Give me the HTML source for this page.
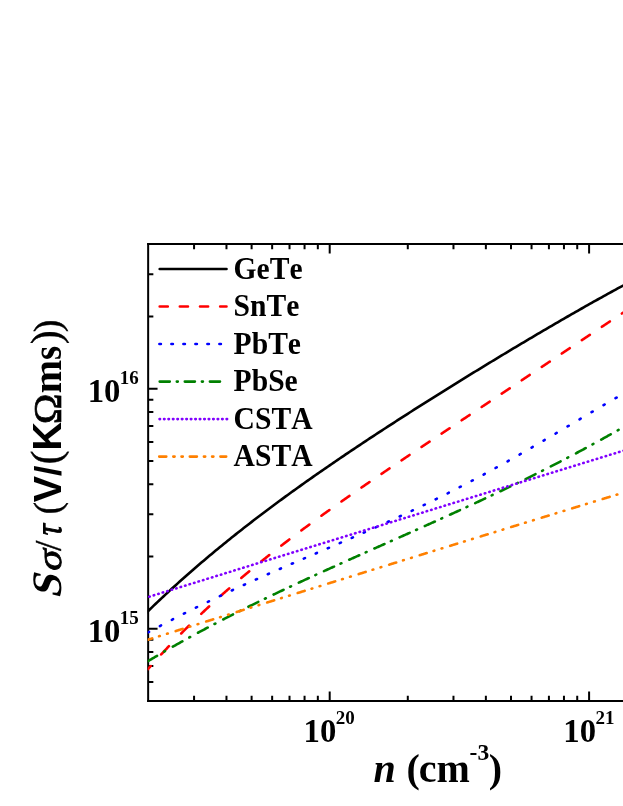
<!DOCTYPE html>
<html><head><meta charset="utf-8"><title>chart</title>
<style>html,body{margin:0;padding:0;background:#fff}body{width:623px;height:806px;overflow:hidden;font-family:"Liberation Serif",serif}svg{display:block;will-change:transform} text{font-kerning:none}</style>
</head><body>
<svg width="623" height="806" viewBox="0 0 623 806">
<rect width="623" height="806" fill="#fff"/>
<g stroke="#000" stroke-width="2.00" fill="none" stroke-linecap="butt">
<path d="M148.15 243.10 V701.90"/>
<path d="M147.15 244.10 H625"/>
<path d="M147.15 700.90 H625"/>
<path d="M194.07 700.90 v-5.20 M194.07 244.10 v5.20 M226.47 700.90 v-5.20 M226.47 244.10 v5.20 M251.61 700.90 v-5.20 M251.61 244.10 v5.20 M272.15 700.90 v-5.20 M272.15 244.10 v5.20 M289.52 700.90 v-5.20 M289.52 244.10 v5.20 M304.56 700.90 v-5.20 M304.56 244.10 v5.20 M317.83 700.90 v-5.20 M317.83 244.10 v5.20 M329.70 700.90 v-9.40 M329.70 244.10 v9.40 M407.79 700.90 v-5.20 M407.79 244.10 v5.20 M453.47 700.90 v-5.20 M453.47 244.10 v5.20 M485.87 700.90 v-5.20 M485.87 244.10 v5.20 M511.01 700.90 v-5.20 M511.01 244.10 v5.20 M531.55 700.90 v-5.20 M531.55 244.10 v5.20 M548.92 700.90 v-5.20 M548.92 244.10 v5.20 M563.96 700.90 v-5.20 M563.96 244.10 v5.20 M577.23 700.90 v-5.20 M577.23 244.10 v5.20 M589.10 700.90 v-9.40 M589.10 244.10 v9.40 M148.15 681.94 h5.20 M148.15 665.88 h5.20 M148.15 651.96 h5.20 M148.15 639.68 h5.20 M148.15 628.70 h9.40 M148.15 556.45 h5.20 M148.15 514.19 h5.20 M148.15 484.21 h5.20 M148.15 460.95 h5.20 M148.15 441.94 h5.20 M148.15 425.88 h5.20 M148.15 411.96 h5.20 M148.15 399.68 h5.20 M148.15 388.70 h9.40 M148.15 316.45 h5.20 M148.15 274.19 h5.20"/>
</g>
<defs><clipPath id="pc"><rect x="147.70" y="244.10" width="480.30" height="456.80"/></clipPath></defs>
<g clip-path="url(#pc)" fill="none" stroke-width="2.60" stroke-linecap="round" stroke-linejoin="round">
<path d="M145.70 613.40 L147.70 611.45 L149.70 609.51 L151.70 607.58 L153.70 605.66 L155.70 603.75 L157.70 601.85 L159.70 599.96 L161.70 598.08 L163.70 596.21 L165.70 594.35 L167.70 592.50 L169.70 590.66 L171.70 588.82 L173.70 587.00 L175.70 585.18 L177.70 583.38 L179.70 581.58 L181.70 579.79 L183.70 578.01 L185.70 576.24 L187.70 574.47 L189.70 572.71 L191.70 570.97 L193.70 569.23 L195.70 567.50 L197.70 565.77 L199.70 564.06 L201.70 562.35 L203.70 560.65 L205.70 558.95 L207.70 557.27 L209.70 555.59 L211.70 553.92 L213.70 552.25 L215.70 550.59 L217.70 548.94 L219.70 547.30 L221.70 545.66 L223.70 544.03 L225.70 542.41 L227.70 540.79 L229.70 539.18 L231.70 537.58 L233.70 535.98 L235.70 534.39 L237.70 532.81 L239.70 531.23 L241.70 529.65 L243.70 528.09 L245.70 526.53 L247.70 524.97 L249.70 523.42 L251.70 521.88 L253.70 520.34 L255.70 518.80 L257.70 517.28 L259.70 515.75 L261.70 514.24 L263.70 512.73 L265.70 511.22 L267.70 509.72 L269.70 508.22 L271.70 506.73 L273.70 505.24 L275.70 503.76 L277.70 502.28 L279.70 500.81 L281.70 499.34 L283.70 497.88 L285.70 496.42 L287.70 494.97 L289.70 493.52 L291.70 492.07 L293.70 490.63 L295.70 489.19 L297.70 487.76 L299.70 486.33 L301.70 484.90 L303.70 483.48 L305.70 482.06 L307.70 480.65 L309.70 479.24 L311.70 477.83 L313.70 476.43 L315.70 475.03 L317.70 473.64 L319.70 472.24 L321.70 470.86 L323.70 469.47 L325.70 468.09 L327.70 466.71 L329.70 465.33 L331.70 463.96 L333.70 462.59 L335.70 461.23 L337.70 459.87 L339.70 458.51 L341.70 457.15 L343.70 455.80 L345.70 454.44 L347.70 453.10 L349.70 451.75 L351.70 450.41 L353.70 449.07 L355.70 447.73 L357.70 446.40 L359.70 445.07 L361.70 443.74 L363.70 442.41 L365.70 441.08 L367.70 439.76 L369.70 438.44 L371.70 437.13 L373.70 435.81 L375.70 434.50 L377.70 433.19 L379.70 431.88 L381.70 430.58 L383.70 429.27 L385.70 427.97 L387.70 426.67 L389.70 425.37 L391.70 424.08 L393.70 422.79 L395.70 421.50 L397.70 420.21 L399.70 418.92 L401.70 417.63 L403.70 416.35 L405.70 415.07 L407.70 413.79 L409.70 412.51 L411.70 411.24 L413.70 409.96 L415.70 408.69 L417.70 407.42 L419.70 406.15 L421.70 404.88 L423.70 403.62 L425.70 402.35 L427.70 401.09 L429.70 399.83 L431.70 398.57 L433.70 397.31 L435.70 396.06 L437.70 394.80 L439.70 393.55 L441.70 392.30 L443.70 391.05 L445.70 389.80 L447.70 388.55 L449.70 387.31 L451.70 386.07 L453.70 384.82 L455.70 383.58 L457.70 382.34 L459.70 381.11 L461.70 379.87 L463.70 378.63 L465.70 377.40 L467.70 376.17 L469.70 374.94 L471.70 373.71 L473.70 372.48 L475.70 371.26 L477.70 370.03 L479.70 368.81 L481.70 367.59 L483.70 366.37 L485.70 365.15 L487.70 363.93 L489.70 362.71 L491.70 361.50 L493.70 360.28 L495.70 359.07 L497.70 357.86 L499.70 356.65 L501.70 355.45 L503.70 354.24 L505.70 353.04 L507.70 351.83 L509.70 350.63 L511.70 349.43 L513.70 348.23 L515.70 347.04 L517.70 345.84 L519.70 344.65 L521.70 343.45 L523.70 342.26 L525.70 341.07 L527.70 339.89 L529.70 338.70 L531.70 337.52 L533.70 336.33 L535.70 335.15 L537.70 333.97 L539.70 332.80 L541.70 331.62 L543.70 330.45 L545.70 329.27 L547.70 328.10 L549.70 326.93 L551.70 325.77 L553.70 324.60 L555.70 323.44 L557.70 322.28 L559.70 321.12 L561.70 319.96 L563.70 318.81 L565.70 317.65 L567.70 316.50 L569.70 315.35 L571.70 314.21 L573.70 313.06 L575.70 311.92 L577.70 310.78 L579.70 309.64 L581.70 308.50 L583.70 307.37 L585.70 306.24 L587.70 305.11 L589.70 303.98 L591.70 302.86 L593.70 301.74 L595.70 300.62 L597.70 299.50 L599.70 298.39 L601.70 297.27 L603.70 296.16 L605.70 295.06 L607.70 293.96 L609.70 292.85 L611.70 291.76 L613.70 290.66 L615.70 289.57 L617.70 288.48 L619.70 287.39 L621.70 286.31 L623.70 285.23 L625.70 284.15 L627.70 283.08 L629.70 282.01" stroke="#000000"/>
<path d="M148.00 669.06 L148.50 668.49 L149.00 667.93 L149.50 667.36 L150.00 666.80 L150.50 666.24 L150.70 666.01 M161.20 654.43 L161.70 653.89 L162.20 653.35 L162.70 652.81 L163.20 652.27 L163.70 651.74 L164.20 651.20 L164.70 650.66 L165.20 650.13 L165.70 649.60 L166.20 649.06 L166.70 648.53 L167.20 648.00 L167.70 647.47 L168.20 646.94 L168.70 646.42 L168.95 646.15 M181.23 633.47 L181.73 632.96 L182.23 632.46 L182.73 631.95 L183.23 631.45 L183.73 630.95 L184.23 630.45 L184.73 629.95 L185.23 629.45 L185.73 628.95 L186.23 628.45 L186.73 627.95 L187.23 627.46 L187.73 626.96 L188.23 626.47 L188.73 625.97 L189.04 625.66 M201.26 613.84 L201.76 613.37 L202.26 612.89 L202.76 612.42 L203.26 611.95 L203.76 611.48 L204.26 611.00 L204.76 610.53 L205.26 610.07 L205.76 609.60 L206.26 609.13 L206.76 608.66 L207.26 608.20 L207.76 607.73 L208.26 607.26 L208.76 606.80 L209.12 606.46 M221.29 595.38 L221.79 594.94 L222.29 594.49 L222.79 594.04 L223.29 593.60 L223.79 593.15 L224.29 592.71 L224.79 592.27 L225.29 591.82 L225.79 591.38 L226.29 590.94 L226.79 590.50 L227.29 590.06 L227.79 589.62 L228.29 589.18 L228.79 588.74 L229.19 588.39 M241.32 577.95 L241.82 577.52 L242.32 577.10 L242.82 576.68 L243.32 576.26 L243.82 575.83 L244.32 575.41 L244.82 574.99 L245.32 574.57 L245.82 574.16 L246.32 573.74 L246.82 573.32 L247.32 572.90 L247.82 572.48 L248.32 572.07 L248.82 571.65 L249.25 571.30 M261.35 561.39 L261.85 560.99 L262.35 560.58 L262.85 560.18 L263.35 559.78 L263.85 559.38 L264.35 558.98 L264.85 558.58 L265.35 558.18 L265.85 557.78 L266.35 557.38 L266.85 556.98 L267.35 556.58 L267.85 556.18 L268.35 555.78 L268.85 555.39 L269.30 555.03 M281.38 545.58 L281.88 545.19 L282.38 544.80 L282.88 544.42 L283.38 544.03 L283.88 543.65 L284.38 543.27 L284.88 542.88 L285.38 542.50 L285.88 542.11 L286.38 541.73 L286.88 541.35 L287.38 540.97 L287.88 540.59 L288.38 540.20 L288.88 539.82 L289.34 539.47 M301.41 530.39 L301.91 530.02 L302.41 529.65 L302.91 529.28 L303.41 528.90 L303.91 528.53 L304.41 528.16 L304.91 527.79 L305.41 527.42 L305.91 527.05 L306.41 526.68 L306.91 526.32 L307.41 525.95 L307.91 525.58 L308.41 525.21 L308.91 524.84 L309.38 524.50 M321.44 515.72 L321.94 515.36 L322.44 515.00 L322.94 514.64 L323.44 514.28 L323.94 513.92 L324.44 513.56 L324.94 513.20 L325.44 512.84 L325.94 512.48 L326.44 512.13 L326.94 511.77 L327.44 511.41 L327.94 511.05 L328.44 510.69 L328.94 510.34 L329.42 510.00 M341.47 501.46 L341.97 501.11 L342.47 500.76 L342.97 500.41 L343.47 500.06 L343.97 499.71 L344.47 499.36 L344.97 499.01 L345.47 498.66 L345.97 498.31 L346.47 497.96 L346.97 497.61 L347.47 497.26 L347.97 496.91 L348.47 496.56 L348.97 496.21 L349.45 495.88 M361.50 487.53 L362.00 487.18 L362.50 486.84 L363.00 486.50 L363.50 486.15 L364.00 485.81 L364.50 485.46 L365.00 485.12 L365.50 484.78 L366.00 484.43 L366.50 484.09 L367.00 483.75 L367.50 483.41 L368.00 483.06 L368.50 482.72 L369.00 482.38 L369.48 482.05 M381.53 473.84 L382.03 473.50 L382.53 473.16 L383.03 472.82 L383.53 472.48 L384.03 472.14 L384.53 471.80 L385.03 471.47 L385.53 471.13 L386.03 470.79 L386.53 470.45 L387.03 470.11 L387.53 469.77 L388.03 469.44 L388.53 469.10 L389.03 468.76 L389.51 468.44 M401.56 460.32 L402.06 459.99 L402.56 459.65 L403.06 459.32 L403.56 458.98 L404.06 458.65 L404.56 458.31 L405.06 457.97 L405.56 457.64 L406.06 457.30 L406.56 456.97 L407.06 456.63 L407.56 456.30 L408.06 455.96 L408.56 455.63 L409.06 455.29 L409.54 454.97 M421.59 446.92 L422.09 446.59 L422.59 446.26 L423.09 445.92 L423.59 445.59 L424.09 445.25 L424.59 444.92 L425.09 444.59 L425.59 444.26 L426.09 443.92 L426.59 443.59 L427.09 443.26 L427.59 442.92 L428.09 442.59 L428.59 442.26 L429.09 441.92 L429.58 441.60 M441.62 433.59 L442.12 433.25 L442.62 432.92 L443.12 432.59 L443.62 432.26 L444.12 431.93 L444.62 431.59 L445.12 431.26 L445.62 430.93 L446.12 430.60 L446.62 430.26 L447.12 429.93 L447.62 429.60 L448.12 429.27 L448.62 428.93 L449.12 428.60 L449.62 428.27 M461.65 420.28 L462.15 419.95 L462.65 419.61 L463.15 419.28 L463.65 418.95 L464.15 418.62 L464.65 418.29 L465.15 417.95 L465.65 417.62 L466.15 417.29 L466.65 416.96 L467.15 416.63 L467.65 416.29 L468.15 415.96 L468.65 415.63 L469.15 415.30 L469.65 414.97 M481.68 406.97 L482.18 406.64 L482.68 406.30 L483.18 405.97 L483.68 405.64 L484.18 405.31 L484.68 404.97 L485.18 404.64 L485.68 404.31 L486.18 403.98 L486.68 403.64 L487.18 403.31 L487.68 402.98 L488.18 402.65 L488.68 402.31 L489.18 401.98 L489.67 401.65 M501.71 393.64 L502.21 393.31 L502.71 392.97 L503.21 392.64 L503.71 392.31 L504.21 391.97 L504.71 391.64 L505.21 391.31 L505.71 390.97 L506.21 390.64 L506.71 390.31 L507.21 389.97 L507.71 389.64 L508.21 389.31 L508.71 388.97 L509.21 388.64 L509.70 388.32 M521.74 380.28 L522.24 379.95 L522.74 379.62 L523.24 379.28 L523.74 378.95 L524.24 378.61 L524.74 378.28 L525.24 377.95 L525.74 377.61 L526.24 377.28 L526.74 376.94 L527.24 376.61 L527.74 376.28 L528.24 375.94 L528.74 375.61 L529.24 375.27 L529.72 374.95 M541.77 366.90 L542.27 366.57 L542.77 366.23 L543.27 365.90 L543.77 365.56 L544.27 365.23 L544.77 364.90 L545.27 364.56 L545.77 364.23 L546.27 363.89 L546.77 363.56 L547.27 363.22 L547.77 362.89 L548.27 362.55 L548.77 362.22 L549.27 361.89 L549.75 361.56 M561.80 353.51 L562.30 353.17 L562.80 352.84 L563.30 352.50 L563.80 352.17 L564.30 351.84 L564.80 351.50 L565.30 351.17 L565.80 350.83 L566.30 350.50 L566.80 350.16 L567.30 349.83 L567.80 349.50 L568.30 349.16 L568.80 348.83 L569.30 348.49 L569.78 348.17 M581.83 340.12 L582.33 339.79 L582.83 339.46 L583.33 339.12 L583.83 338.79 L584.33 338.46 L584.83 338.12 L585.33 337.79 L585.83 337.46 L586.33 337.12 L586.83 336.79 L587.33 336.45 L587.83 336.12 L588.33 335.79 L588.83 335.46 L589.33 335.12 L589.82 334.80 M601.86 326.78 L602.36 326.45 L602.86 326.12 L603.36 325.79 L603.86 325.46 L604.36 325.13 L604.86 324.79 L605.36 324.46 L605.86 324.13 L606.36 323.80 L606.86 323.47 L607.36 323.14 L607.86 322.80 L608.36 322.47 L608.86 322.14 L609.36 321.81 L609.86 321.48 L609.86 321.48 M621.89 313.53 L622.39 313.20 L622.89 312.88 L623.39 312.55 L623.89 312.22 L624.39 311.89 L624.89 311.56 L625.39 311.23 L625.89 310.90 L626.39 310.57 L626.89 310.25 L627.39 309.92 L627.89 309.59 L628.39 309.26" stroke="#ff0000"/>
<path d="M147.90 632.46 L148.40 632.19 L148.90 631.92 L149.04 631.84 M159.89 626.06 L160.39 625.79 L160.89 625.53 L161.04 625.45 M171.88 619.79 L172.38 619.53 L172.88 619.28 L173.04 619.20 M183.87 613.67 L184.37 613.41 L184.87 613.16 L185.03 613.08 M195.86 607.68 L196.36 607.43 L196.86 607.18 L197.03 607.10 M207.85 601.82 L208.35 601.58 L208.85 601.34 L209.02 601.25 M219.84 596.09 L220.34 595.85 L220.84 595.62 L221.02 595.53 M231.83 590.48 L232.33 590.25 L232.83 590.01 L233.01 589.93 M243.82 584.97 L244.32 584.74 L244.82 584.52 L245.00 584.43 M255.81 579.56 L256.31 579.34 L256.81 579.12 L257.00 579.03 M267.80 574.24 L268.30 574.02 L268.80 573.79 L268.99 573.71 M279.79 568.98 L280.29 568.76 L280.79 568.54 L280.98 568.46 M291.78 563.77 L292.28 563.55 L292.78 563.34 L292.97 563.25 M303.77 558.59 L304.27 558.38 L304.77 558.16 L304.96 558.08 M315.76 553.44 L316.26 553.23 L316.76 553.01 L316.95 552.93 M327.75 548.29 L328.25 548.07 L328.75 547.86 L328.94 547.77 M339.74 543.12 L340.24 542.90 L340.74 542.68 L340.93 542.60 M351.73 537.91 L352.23 537.70 L352.73 537.48 L352.92 537.40 M363.72 532.66 L364.22 532.44 L364.72 532.22 L364.91 532.14 M375.71 527.35 L376.21 527.12 L376.71 526.90 L376.90 526.81 M387.70 521.95 L388.20 521.72 L388.70 521.49 L388.88 521.41 M399.69 516.46 L400.19 516.22 L400.69 515.99 L400.87 515.91 M411.68 510.86 L412.18 510.62 L412.68 510.38 L412.86 510.30 M423.67 505.14 L424.17 504.90 L424.67 504.66 L424.84 504.57 M435.66 499.29 L436.16 499.05 L436.66 498.80 L436.83 498.72 M447.65 493.31 L448.15 493.06 L448.65 492.81 L448.81 492.73 M459.64 487.20 L460.14 486.94 L460.64 486.68 L460.79 486.60 M471.63 480.93 L472.13 480.67 L472.63 480.41 L472.78 480.33 M483.62 474.53 L484.12 474.26 L484.62 473.99 L484.76 473.91 M495.61 467.99 L496.11 467.71 L496.61 467.44 L496.75 467.36 M507.60 461.32 L508.10 461.03 L508.60 460.75 L508.73 460.68 M519.59 454.52 L520.09 454.23 L520.59 453.95 L520.72 453.87 M531.58 447.61 L532.08 447.32 L532.58 447.03 L532.70 446.96 M543.57 440.62 L544.07 440.32 L544.57 440.03 L544.69 439.96 M555.56 433.55 L556.06 433.25 L556.56 432.95 L556.68 432.88 M567.55 426.43 L568.05 426.14 L568.55 425.84 L568.67 425.77 M579.54 419.30 L580.04 419.01 L580.54 418.71 L580.66 418.64 M591.53 412.20 L592.03 411.90 L592.53 411.60 L592.65 411.53 M603.52 405.15 L604.02 404.85 L604.52 404.56 L604.64 404.49 M615.51 398.20 L616.01 397.92 L616.51 397.63 L616.64 397.56 M627.50 391.41 L628.00 391.14 L628.50 390.86" stroke="#0000ff"/>
<path d="M148.10 661.11 L148.60 660.81 L149.10 660.51 L149.60 660.21 L150.10 659.91 L150.60 659.62 L151.10 659.32 L151.60 659.02 L152.10 658.72 L152.60 658.43 L153.10 658.13 L153.60 657.83 L154.10 657.54 L154.60 657.24 L155.10 656.95 L155.60 656.65 L156.10 656.36 L156.60 656.07 L157.06 655.80 M164.10 651.69 L164.60 651.40 L164.97 651.19 M172.80 646.71 L173.30 646.42 L173.80 646.14 L174.30 645.86 L174.80 645.57 L175.30 645.29 L175.80 645.01 L176.30 644.73 L176.80 644.44 L177.30 644.16 L177.80 643.88 L178.30 643.60 L178.80 643.32 L179.30 643.04 L179.80 642.76 L180.30 642.48 L180.80 642.20 L181.30 641.92 L181.80 641.64 L182.30 641.37 L182.39 641.32 M189.30 637.50 L189.80 637.22 L190.18 637.02 M198.00 632.76 L198.50 632.49 L199.00 632.22 L199.50 631.95 L200.00 631.69 L200.50 631.42 L201.00 631.15 L201.50 630.88 L202.00 630.61 L202.50 630.35 L203.00 630.08 L203.50 629.81 L204.00 629.54 L204.50 629.28 L205.00 629.01 L205.50 628.75 L206.00 628.48 L206.50 628.21 L207.00 627.95 L207.50 627.68 L207.70 627.58 M214.50 624.00 L215.00 623.74 L215.39 623.54 M223.20 619.48 L223.70 619.23 L224.20 618.97 L224.70 618.71 L225.20 618.45 L225.70 618.20 L226.20 617.94 L226.70 617.69 L227.20 617.43 L227.70 617.17 L228.20 616.92 L228.70 616.66 L229.20 616.41 L229.70 616.15 L230.20 615.90 L230.70 615.64 L231.20 615.39 L231.70 615.14 L232.20 614.88 L232.70 614.63 L233.00 614.48 M239.70 611.10 L240.20 610.85 L240.59 610.65 M248.40 606.77 L248.90 606.52 L249.40 606.28 L249.90 606.03 L250.40 605.78 L250.90 605.54 L251.40 605.29 L251.90 605.04 L252.40 604.80 L252.90 604.55 L253.40 604.31 L253.90 604.06 L254.40 603.82 L254.90 603.57 L255.40 603.33 L255.90 603.08 L256.40 602.84 L256.90 602.59 L257.40 602.35 L257.90 602.11 L258.27 601.92 M264.90 598.71 L265.40 598.47 L265.80 598.28 M273.60 594.53 L274.10 594.29 L274.60 594.06 L275.10 593.82 L275.60 593.58 L276.10 593.34 L276.60 593.10 L277.10 592.86 L277.60 592.63 L278.10 592.39 L278.60 592.15 L279.10 591.92 L279.60 591.68 L280.10 591.44 L280.60 591.20 L281.10 590.97 L281.60 590.73 L282.10 590.50 L282.60 590.26 L283.10 590.02 L283.54 589.82 M290.10 586.73 L290.60 586.50 L291.01 586.31 M298.80 582.68 L299.30 582.44 L299.80 582.21 L300.30 581.98 L300.80 581.75 L301.30 581.52 L301.80 581.29 L302.30 581.05 L302.80 580.82 L303.30 580.59 L303.80 580.36 L304.30 580.13 L304.80 579.90 L305.30 579.67 L305.80 579.44 L306.30 579.21 L306.80 578.98 L307.30 578.75 L307.80 578.52 L308.30 578.29 L308.79 578.06 M315.30 575.08 L315.80 574.85 L316.21 574.66 M324.00 571.11 L324.50 570.89 L325.00 570.66 L325.50 570.43 L326.00 570.21 L326.50 569.98 L327.00 569.75 L327.50 569.52 L328.00 569.30 L328.50 569.07 L329.00 568.85 L329.50 568.62 L330.00 568.39 L330.50 568.17 L331.00 567.94 L331.50 567.71 L332.00 567.49 L332.50 567.26 L333.00 567.04 L333.50 566.81 L334.00 566.59 L334.02 566.58 M340.50 563.66 L341.00 563.43 L341.41 563.25 M349.20 559.75 L349.70 559.53 L350.20 559.31 L350.70 559.08 L351.20 558.86 L351.70 558.64 L352.20 558.41 L352.70 558.19 L353.20 557.96 L353.70 557.74 L354.20 557.52 L354.70 557.29 L355.20 557.07 L355.70 556.85 L356.20 556.62 L356.70 556.40 L357.20 556.18 L357.70 555.95 L358.20 555.73 L358.70 555.51 L359.20 555.28 L359.24 555.27 M365.70 552.39 L366.20 552.16 L366.61 551.98 M374.40 548.52 L374.90 548.29 L375.40 548.07 L375.90 547.85 L376.40 547.63 L376.90 547.40 L377.40 547.18 L377.90 546.96 L378.40 546.74 L378.90 546.51 L379.40 546.29 L379.90 546.07 L380.40 545.85 L380.90 545.63 L381.40 545.40 L381.90 545.18 L382.40 544.96 L382.90 544.74 L383.40 544.51 L383.90 544.29 L384.40 544.07 L384.45 544.05 M390.90 541.18 L391.40 540.96 L391.81 540.77 M399.60 537.31 L400.10 537.09 L400.60 536.87 L401.10 536.64 L401.60 536.42 L402.10 536.20 L402.60 535.98 L403.10 535.75 L403.60 535.53 L404.10 535.31 L404.60 535.09 L405.10 534.86 L405.60 534.64 L406.10 534.42 L406.60 534.20 L407.10 533.97 L407.60 533.75 L408.10 533.53 L408.60 533.30 L409.10 533.08 L409.60 532.86 L409.65 532.84 M416.10 529.96 L416.60 529.73 L417.01 529.55 M424.80 526.06 L425.30 525.84 L425.80 525.61 L426.30 525.39 L426.80 525.17 L427.30 524.94 L427.80 524.72 L428.30 524.49 L428.80 524.27 L429.30 524.04 L429.80 523.82 L430.30 523.59 L430.80 523.37 L431.30 523.14 L431.80 522.92 L432.30 522.69 L432.80 522.47 L433.30 522.24 L433.80 522.02 L434.30 521.79 L434.80 521.57 L434.83 521.55 M441.30 518.63 L441.80 518.41 L442.21 518.22 M450.00 514.69 L450.50 514.46 L451.00 514.23 L451.50 514.01 L452.00 513.78 L452.50 513.55 L453.00 513.32 L453.50 513.09 L454.00 512.87 L454.50 512.64 L455.00 512.41 L455.50 512.18 L456.00 511.95 L456.50 511.72 L457.00 511.50 L457.50 511.27 L458.00 511.04 L458.50 510.81 L459.00 510.58 L459.50 510.35 L460.00 510.12 L460.01 510.12 M466.50 507.14 L467.00 506.90 L467.41 506.72 M475.20 503.11 L475.70 502.88 L476.20 502.65 L476.70 502.41 L477.20 502.18 L477.70 501.95 L478.20 501.72 L478.70 501.48 L479.20 501.25 L479.70 501.02 L480.20 500.78 L480.70 500.55 L481.20 500.32 L481.70 500.08 L482.20 499.85 L482.70 499.61 L483.20 499.38 L483.70 499.15 L484.20 498.91 L484.70 498.68 L485.17 498.46 M491.70 495.38 L492.20 495.15 L492.60 494.96 M500.40 491.26 L500.90 491.02 L501.40 490.78 L501.90 490.54 L502.40 490.30 L502.90 490.06 L503.40 489.82 L503.90 489.58 L504.40 489.34 L504.90 489.10 L505.40 488.86 L505.90 488.62 L506.40 488.38 L506.90 488.14 L507.40 487.90 L507.90 487.66 L508.40 487.42 L508.90 487.18 L509.40 486.94 L509.90 486.70 L510.32 486.50 M516.90 483.31 L517.40 483.06 L517.80 482.87 M525.60 479.05 L526.10 478.80 L526.60 478.55 L527.10 478.31 L527.60 478.06 L528.10 477.81 L528.60 477.57 L529.10 477.32 L529.60 477.07 L530.10 476.82 L530.60 476.58 L531.10 476.33 L531.60 476.08 L532.10 475.83 L532.60 475.58 L533.10 475.34 L533.60 475.09 L534.10 474.84 L534.60 474.59 L535.10 474.34 L535.46 474.16 M542.10 470.83 L542.60 470.58 L542.99 470.38 M550.80 466.42 L551.30 466.16 L551.80 465.91 L552.30 465.65 L552.80 465.39 L553.30 465.14 L553.80 464.88 L554.30 464.62 L554.80 464.37 L555.30 464.11 L555.80 463.85 L556.30 463.60 L556.80 463.34 L557.30 463.08 L557.80 462.82 L558.30 462.57 L558.80 462.31 L559.30 462.05 L559.80 461.79 L560.30 461.53 L560.58 461.38 M567.30 457.88 L567.80 457.62 L568.19 457.42 M576.00 453.29 L576.50 453.03 L577.00 452.76 L577.50 452.49 L578.00 452.23 L578.50 451.96 L579.00 451.69 L579.50 451.43 L580.00 451.16 L580.50 450.89 L581.00 450.62 L581.50 450.36 L582.00 450.09 L582.50 449.82 L583.00 449.55 L583.50 449.28 L584.00 449.01 L584.50 448.74 L585.00 448.47 L585.50 448.20 L585.70 448.10 M592.50 444.40 L593.00 444.13 L593.38 443.92 M601.20 439.61 L601.70 439.33 L602.20 439.05 L602.70 438.78 L603.20 438.50 L603.70 438.22 L604.20 437.94 L604.70 437.66 L605.20 437.38 L605.70 437.10 L606.20 436.82 L606.70 436.54 L607.20 436.26 L607.70 435.98 L608.20 435.70 L608.70 435.42 L609.20 435.14 L609.70 434.86 L610.20 434.57 L610.70 434.29 L610.80 434.24 M617.70 430.31 L618.20 430.03 L618.57 429.82 M626.40 425.30 L626.90 425.01 L627.40 424.72 L627.90 424.43 L628.40 424.13" stroke="#008000"/>
<path d="M149.25 596.68 L149.73 596.53 M153.72 595.30 L154.20 595.15 M158.20 593.92 L158.68 593.77 M162.67 592.54 L163.15 592.40 M167.15 591.17 L167.62 591.02 M171.62 589.79 L172.10 589.64 M176.09 588.41 L176.57 588.26 M180.57 587.03 L181.05 586.89 M185.04 585.65 L185.52 585.51 M189.52 584.28 L189.99 584.13 M193.99 582.90 L194.47 582.75 M198.46 581.52 L198.94 581.37 M202.94 580.14 L203.42 580.00 M207.41 578.77 L207.89 578.62 M211.89 577.39 L212.36 577.24 M216.36 576.01 L216.84 575.86 M220.83 574.63 L221.31 574.49 M225.31 573.26 L225.79 573.11 M229.78 571.88 L230.26 571.73 M234.26 570.50 L234.73 570.35 M238.73 569.12 L239.21 568.98 M243.20 567.75 L243.68 567.60 M247.68 566.37 L248.16 566.22 M252.15 564.99 L252.63 564.84 M256.63 563.61 L257.10 563.47 M261.10 562.23 L261.58 562.09 M265.57 560.86 L266.05 560.71 M270.05 559.48 L270.53 559.33 M274.52 558.10 L275.00 557.95 M279.00 556.72 L279.47 556.58 M283.47 555.35 L283.95 555.20 M287.94 553.97 L288.42 553.82 M292.42 552.59 L292.90 552.44 M296.89 551.21 L297.37 551.07 M301.37 549.84 L301.84 549.69 M305.84 548.46 L306.32 548.31 M310.31 547.08 L310.79 546.93 M314.79 545.70 L315.27 545.56 M319.26 544.33 L319.74 544.18 M323.74 542.95 L324.21 542.80 M328.21 541.57 L328.69 541.42 M332.68 540.19 L333.16 540.05 M337.16 538.81 L337.64 538.67 M341.63 537.44 L342.11 537.29 M346.11 536.06 L346.58 535.91 M350.58 534.68 L351.06 534.53 M355.05 533.30 L355.53 533.16 M359.53 531.93 L360.01 531.78 M364.00 530.55 L364.48 530.40 M368.48 529.17 L368.95 529.02 M372.95 527.79 L373.43 527.65 M377.42 526.42 L377.90 526.27 M381.90 525.04 L382.38 524.89 M386.37 523.66 L386.85 523.51 M390.85 522.28 L391.32 522.14 M395.32 520.91 L395.80 520.76 M399.79 519.53 L400.27 519.38 M404.27 518.15 L404.75 518.00 M408.74 516.77 L409.22 516.63 M413.22 515.39 L413.69 515.25 M417.69 514.02 L418.17 513.87 M422.16 512.64 L422.64 512.49 M426.64 511.26 L427.12 511.11 M431.11 509.88 L431.59 509.74 M435.59 508.51 L436.06 508.36 M440.06 507.13 L440.54 506.98 M444.53 505.75 L445.01 505.60 M449.01 504.37 L449.49 504.23 M453.48 503.00 L453.96 502.85 M457.96 501.62 L458.43 501.47 M462.43 500.24 L462.91 500.09 M466.90 498.86 L467.38 498.72 M471.38 497.49 L471.86 497.34 M475.85 496.11 L476.33 495.96 M480.33 494.73 L480.80 494.58 M484.80 493.35 L485.28 493.21 M489.27 491.97 L489.75 491.83 M493.75 490.60 L494.23 490.45 M498.22 489.22 L498.70 489.07 M502.70 487.84 L503.17 487.69 M507.17 486.46 L507.65 486.32 M511.64 485.09 L512.12 484.94 M516.12 483.71 L516.60 483.56 M520.59 482.33 L521.07 482.18 M525.07 480.95 L525.54 480.81 M529.54 479.58 L530.02 479.43 M534.01 478.20 L534.49 478.05 M538.49 476.82 L538.97 476.67 M542.96 475.44 L543.44 475.30 M547.44 474.07 L547.91 473.92 M551.91 472.69 L552.39 472.54 M556.38 471.31 L556.86 471.16 M560.86 469.93 L561.34 469.79 M565.33 468.55 L565.81 468.41 M569.81 467.18 L570.28 467.03 M574.28 465.80 L574.76 465.65 M578.75 464.42 L579.23 464.27 M583.23 463.04 L583.71 462.90 M587.70 461.67 L588.18 461.52 M592.18 460.29 L592.65 460.14 M596.65 458.91 L597.13 458.76 M601.12 457.53 L601.60 457.39 M605.60 456.16 L606.08 456.01 M610.07 454.78 L610.55 454.63 M614.55 453.40 L615.02 453.25 M619.02 452.02 L619.50 451.88 M623.49 450.65 L623.97 450.50 M627.97 449.27 L628.45 449.12" stroke="#8000ff"/>
<path d="M147.70 639.82 L148.20 639.66 L148.70 639.51 L149.20 639.35 L149.70 639.19 L150.20 639.04 L150.70 638.88 L151.20 638.72 L151.70 638.57 L152.17 638.42 M159.05 636.26 L159.55 636.11 L159.81 636.03 M167.05 633.76 L167.55 633.60 L167.81 633.52 M175.70 631.05 L176.20 630.90 L176.70 630.74 L177.20 630.58 L177.70 630.43 L178.20 630.27 L178.70 630.12 L179.20 629.96 L179.70 629.80 L180.20 629.65 L180.70 629.49 L181.20 629.33 L181.70 629.18 L182.20 629.02 L182.67 628.87 M189.55 626.72 L190.05 626.57 L190.31 626.48 M197.55 624.22 L198.05 624.07 L198.31 623.98 M206.20 621.52 L206.70 621.36 L207.20 621.21 L207.70 621.05 L208.20 620.89 L208.70 620.74 L209.20 620.58 L209.70 620.43 L210.20 620.27 L210.70 620.11 L211.20 619.96 L211.70 619.80 L212.20 619.65 L212.70 619.49 L213.17 619.34 M220.05 617.19 L220.55 617.04 L220.81 616.96 M228.05 614.70 L228.55 614.54 L228.81 614.46 M236.70 612.00 L237.20 611.84 L237.70 611.69 L238.20 611.53 L238.70 611.38 L239.20 611.22 L239.70 611.06 L240.20 610.91 L240.70 610.75 L241.20 610.60 L241.70 610.44 L242.20 610.29 L242.70 610.13 L243.20 609.97 L243.67 609.83 M250.55 607.68 L251.05 607.53 L251.31 607.44 M258.55 605.19 L259.05 605.03 L259.31 604.95 M267.20 602.50 L267.70 602.34 L268.20 602.19 L268.70 602.03 L269.20 601.87 L269.70 601.72 L270.20 601.56 L270.70 601.41 L271.20 601.25 L271.70 601.10 L272.20 600.94 L272.70 600.78 L273.20 600.63 L273.70 600.47 L274.17 600.33 M281.05 598.19 L281.55 598.03 L281.81 597.95 M289.05 595.70 L289.55 595.54 L289.81 595.46 M297.70 593.01 L298.20 592.85 L298.70 592.70 L299.20 592.54 L299.70 592.39 L300.20 592.23 L300.70 592.08 L301.20 591.92 L301.70 591.77 L302.20 591.61 L302.70 591.45 L303.20 591.30 L303.70 591.14 L304.20 590.99 L304.67 590.84 M311.55 588.71 L312.05 588.55 L312.31 588.47 M319.55 586.22 L320.05 586.07 L320.31 585.98 M328.20 583.54 L328.70 583.38 L329.20 583.23 L329.70 583.07 L330.20 582.92 L330.70 582.76 L331.20 582.61 L331.70 582.45 L332.20 582.29 L332.70 582.14 L333.20 581.98 L333.70 581.83 L334.20 581.67 L334.70 581.52 L335.17 581.37 M342.05 579.24 L342.55 579.08 L342.81 579.00 M350.05 576.76 L350.55 576.60 L350.81 576.52 M358.70 574.08 L359.20 573.92 L359.70 573.77 L360.20 573.61 L360.70 573.46 L361.20 573.30 L361.70 573.15 L362.20 572.99 L362.70 572.84 L363.20 572.68 L363.70 572.53 L364.20 572.37 L364.70 572.22 L365.20 572.07 L365.67 571.92 M372.55 569.79 L373.05 569.63 L373.31 569.55 M380.55 567.31 L381.05 567.16 L381.31 567.08 M389.20 564.64 L389.70 564.48 L390.20 564.33 L390.70 564.17 L391.20 564.02 L391.70 563.86 L392.20 563.71 L392.70 563.55 L393.20 563.40 L393.70 563.25 L394.20 563.09 L394.70 562.94 L395.20 562.78 L395.70 562.63 L396.17 562.48 M403.05 560.35 L403.55 560.20 L403.81 560.12 M411.05 557.88 L411.55 557.73 L411.81 557.65 M419.70 555.21 L420.20 555.06 L420.70 554.90 L421.20 554.75 L421.70 554.59 L422.20 554.44 L422.70 554.28 L423.20 554.13 L423.70 553.98 L424.20 553.82 L424.70 553.67 L425.20 553.51 L425.70 553.36 L426.20 553.20 L426.68 553.06 M433.55 550.94 L434.05 550.78 L434.31 550.70 M441.55 548.47 L442.05 548.31 L442.31 548.23 M450.20 545.80 L450.70 545.65 L451.20 545.49 L451.70 545.34 L452.20 545.18 L452.70 545.03 L453.20 544.87 L453.70 544.72 L454.20 544.57 L454.70 544.41 L455.20 544.26 L455.70 544.10 L456.20 543.95 L456.70 543.80 L457.18 543.65 M464.05 541.53 L464.55 541.38 L464.81 541.30 M472.05 539.07 L472.55 538.91 L472.81 538.83 M480.70 536.40 L481.20 536.25 L481.70 536.10 L482.20 535.94 L482.70 535.79 L483.20 535.63 L483.70 535.48 L484.20 535.33 L484.70 535.17 L485.20 535.02 L485.70 534.87 L486.20 534.71 L486.70 534.56 L487.20 534.40 L487.68 534.26 M494.55 532.14 L495.05 531.99 L495.31 531.91 M502.55 529.68 L503.05 529.53 L503.31 529.45 M511.20 527.02 L511.70 526.87 L512.20 526.72 L512.70 526.56 L513.20 526.41 L513.70 526.26 L514.20 526.10 L514.70 525.95 L515.20 525.80 L515.70 525.64 L516.20 525.49 L516.70 525.33 L517.20 525.18 L517.70 525.03 L518.18 524.88 M525.05 522.77 L525.55 522.62 L525.81 522.53 M533.05 520.31 L533.55 520.16 L533.81 520.08 M541.70 517.66 L542.20 517.51 L542.70 517.35 L543.20 517.20 L543.70 517.05 L544.20 516.89 L544.70 516.74 L545.20 516.59 L545.70 516.43 L546.20 516.28 L546.70 516.13 L547.20 515.97 L547.70 515.82 L548.20 515.67 L548.68 515.52 M555.55 513.41 L556.05 513.26 L556.31 513.18 M563.55 510.96 L564.05 510.81 L564.31 510.73 M572.20 508.31 L572.70 508.16 L573.20 508.00 L573.70 507.85 L574.20 507.70 L574.70 507.54 L575.20 507.39 L575.70 507.24 L576.20 507.09 L576.70 506.93 L577.20 506.78 L577.70 506.63 L578.20 506.47 L578.70 506.32 L579.18 506.17 M586.05 504.07 L586.55 503.92 L586.81 503.84 M594.05 501.62 L594.55 501.47 L594.82 501.39 M602.70 498.98 L603.20 498.82 L603.70 498.67 L604.20 498.52 L604.70 498.37 L605.20 498.21 L605.70 498.06 L606.20 497.91 L606.70 497.75 L607.20 497.60 L607.70 497.45 L608.20 497.30 L608.70 497.14 L609.20 496.99 L609.68 496.84 M616.55 494.74 L617.05 494.59 L617.32 494.51 M624.55 492.30 L625.05 492.15 L625.32 492.07" stroke="#ff8000"/>
</g>
<g fill="none" stroke-width="2.60" stroke-linecap="round">
<path d="M159.70 269.00 H226.50" stroke="#000"/>
<path d="M159.70 306.50 H226.50" stroke="#ff0000" stroke-dasharray="8.1 12.05"/>
<path d="M159.40 344.00 H226.50" stroke="#0000ff" stroke-dasharray="1.5 10.5"/>
<path d="M159.70 381.60 H222.50" stroke="#008000" stroke-dasharray="10.1 7 1 7"/>
<path d="M159.55 419.10 H228.00" stroke="#8000ff" stroke-dasharray="0.5 3.97"/>
<path d="M159.20 456.60 H226.20" stroke="#ff8000" stroke-dasharray="7.1 7.0 1.3 6.9 1.3 7.0"/>
</g>
<g font-family="'Liberation Serif', serif" font-weight="bold" font-size="29.6px" fill="#000">
<text transform="translate(233.6 278.60) scale(1 1.035)">GeTe</text>
<text transform="translate(233.6 316.10) scale(1 1.035)">SnTe</text>
<text transform="translate(233.6 353.60) scale(1 1.035)">PbTe</text>
<text transform="translate(233.6 391.20) scale(1 1.035)">PbSe</text>
<text transform="translate(233.6 428.70) scale(1 1.035)">CSTA</text>
<text transform="translate(233.6 466.20) scale(1 1.035)">ASTA</text>
</g>
<text x="87.70" y="401.50" font-family="'Liberation Serif', serif" font-weight="bold" font-size="32.7px">10</text><text x="119.80" y="383.90" font-family="'Liberation Serif', serif" font-weight="bold" font-size="19px">16</text>
<text x="87.70" y="641.50" font-family="'Liberation Serif', serif" font-weight="bold" font-size="32.7px">10</text><text x="119.80" y="623.90" font-family="'Liberation Serif', serif" font-weight="bold" font-size="19px">15</text>
<text x="303.60" y="741.70" font-family="'Liberation Serif', serif" font-weight="bold" font-size="32.7px">10</text><text x="335.70" y="724.30" font-family="'Liberation Serif', serif" font-weight="bold" font-size="19px">20</text>
<text x="563.30" y="741.70" font-family="'Liberation Serif', serif" font-weight="bold" font-size="32.7px">10</text><text x="595.40" y="724.30" font-family="'Liberation Serif', serif" font-weight="bold" font-size="19px">21</text>
<text x="373.4" y="781.60" font-family="'Liberation Serif', serif" font-weight="bold" font-style="italic" font-size="40px">n</text>
<text x="406.4" y="781.60" font-family="'Liberation Serif', serif" font-weight="bold" font-size="40px">(</text>
<text x="418.8" y="781.60" font-family="'Liberation Serif', serif" font-weight="bold" font-size="40px">cm</text>
<text x="469.6" y="759.70" font-family="'Liberation Serif', serif" font-weight="bold" font-size="23.5px">-3</text>
<text x="488.8" y="781.60" font-family="'Liberation Serif', serif" font-weight="bold" font-size="40px">)</text>
<text transform="translate(61.20 598.84) rotate(-90) skewX(-14)" font-family="'Liberation Serif', serif" font-weight="bold" font-size="42px">S</text>
<text transform="translate(61.20 572.13) rotate(-90) skewX(-11) scale(1.15 1)" font-family="'Liberation Serif', serif" font-weight="normal" font-size="35px" stroke="#000" stroke-width="0.9">σ</text>
<text transform="translate(61.20 551.00) rotate(-90)" font-family="'Liberation Serif', serif" font-weight="normal" font-size="38px" stroke="#000" stroke-width="0.35">/</text>
<text transform="translate(61.20 537.65) rotate(-90) skewX(-11) scale(0.78 1)" font-family="'Liberation Serif', serif" font-weight="normal" font-size="38px" stroke="#000" stroke-width="1.1">τ</text>
<text transform="translate(60.20 514.57) rotate(-90)" font-family="'Liberation Serif', serif" font-weight="normal" font-size="38px" stroke="#000" stroke-width="0.35">(</text>
<text transform="translate(61.20 502.27) rotate(-90)" font-family="'Liberation Sans', sans-serif" font-weight="bold" font-size="39.5px">V</text>
<text transform="translate(60.80 475.97) rotate(-90)" font-family="'Liberation Sans', sans-serif" font-weight="bold" font-size="37.5px">/</text>
<text transform="translate(60.00 464.45) rotate(-90)" font-family="'Liberation Serif', serif" font-weight="normal" font-size="42px" stroke="#000" stroke-width="0.35">(</text>
<text transform="translate(61.20 450.68) rotate(-90)" font-family="'Liberation Sans', sans-serif" font-weight="bold" font-size="40px">K</text>
<text transform="translate(61.20 424.34) rotate(-90) scale(1.06 1)" font-family="'Liberation Serif', serif" font-weight="normal" font-size="39px" stroke="#000" stroke-width="0.7">Ω</text>
<text transform="translate(61.20 393.17) rotate(-90)" font-family="'Liberation Serif', serif" font-weight="bold" font-size="40px">m</text>
<text transform="translate(61.20 359.99) rotate(-90) scale(0.9 1)" font-family="'Liberation Serif', serif" font-weight="bold" font-size="40px">s</text>
<text transform="translate(60.00 344.15) rotate(-90)" font-family="'Liberation Serif', serif" font-weight="normal" font-size="42px" stroke="#000" stroke-width="0.35">)</text>
<text transform="translate(60.20 332.22) rotate(-90)" font-family="'Liberation Serif', serif" font-weight="normal" font-size="38px" stroke="#000" stroke-width="0.35">)</text>
</svg>
</body></html>
